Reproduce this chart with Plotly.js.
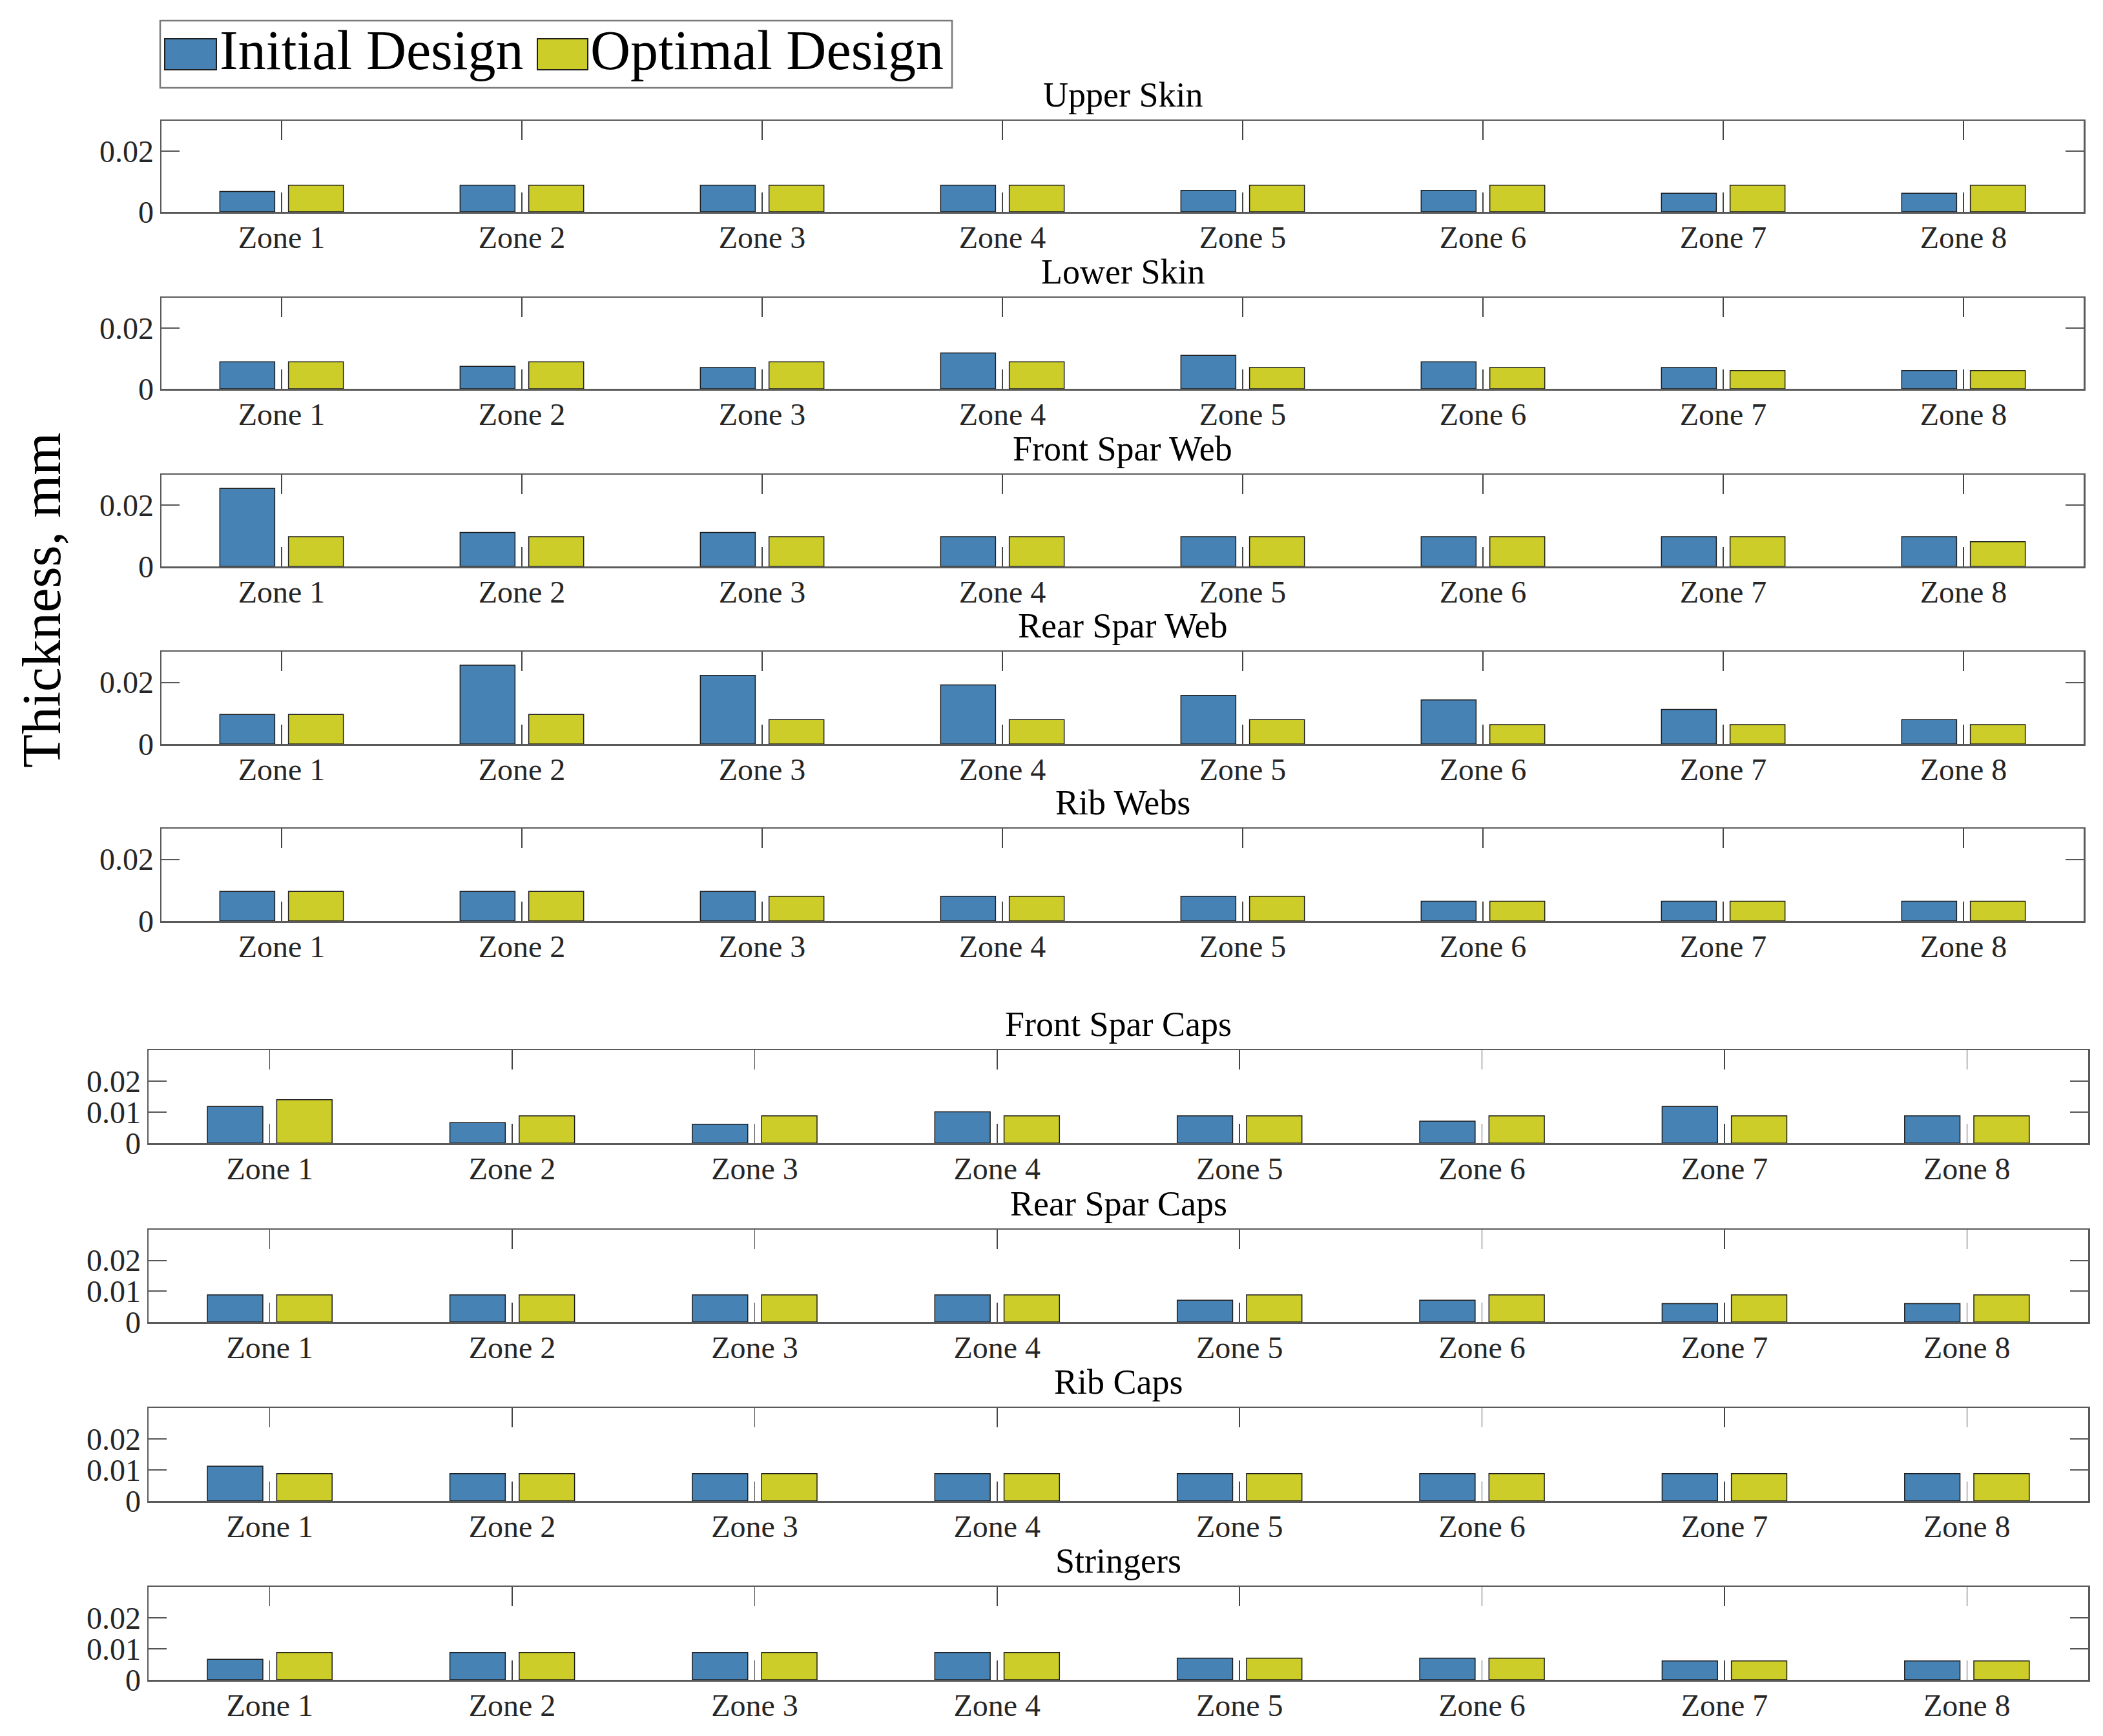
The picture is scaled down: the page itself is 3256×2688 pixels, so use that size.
<!DOCTYPE html>
<html>
<head>
<meta charset="utf-8">
<script src="https://cdn.plot.ly/plotly-3.0.1.min.js"></script>
<style>html,body{margin:0;padding:0;background:#fff;}#chart{width:3256px;height:2688px;}</style>
</head>
<body>
<div id="chart"></div>
<script>
// ---------------- DATA ----------------
const zones = ['Zone 1','Zone 2','Zone 3','Zone 4','Zone 5','Zone 6','Zone 7','Zone 8'];
const seriesNames = ['Initial Design','Optimal Design'];
const panelTitles = ['Upper Skin','Lower Skin','Front Spar Web','Rear Spar Web','Rib Webs',
                     'Front Spar Caps','Rear Spar Caps','Rib Caps','Stringers'];
const yAxisTitle = 'Thickness, mm';

const upperSkinInitial     = [0.0067,0.0088,0.0088,0.0088,0.0071,0.0071,0.0061,0.0061];
const upperSkinOptimal     = [0.0088,0.0088,0.0088,0.0088,0.0088,0.0088,0.0088,0.0088];
const lowerSkinInitial     = [0.0089,0.0074,0.0070,0.0118,0.0110,0.0089,0.0070,0.0060];
const lowerSkinOptimal     = [0.0089,0.0089,0.0089,0.0089,0.0070,0.0070,0.0060,0.0060];
const frontSparWebInitial  = [0.0255,0.0111,0.0111,0.0097,0.0097,0.0097,0.0097,0.0097];
const frontSparWebOptimal  = [0.0097,0.0097,0.0097,0.0097,0.0097,0.0097,0.0097,0.0081];
const rearSparWebInitial   = [0.0096,0.0256,0.0223,0.0192,0.0158,0.0143,0.0112,0.0079];
const rearSparWebOptimal   = [0.0096,0.0096,0.0079,0.0079,0.0079,0.0063,0.0063,0.0063];
const ribWebsInitial       = [0.0096,0.0096,0.0096,0.0080,0.0080,0.0064,0.0064,0.0064];
const ribWebsOptimal       = [0.0096,0.0096,0.0080,0.0080,0.0080,0.0064,0.0064,0.0064];
const frontSparCapsInitial = [0.0118,0.0066,0.0061,0.0101,0.0088,0.0071,0.0118,0.0088];
const frontSparCapsOptimal = [0.0140,0.0088,0.0088,0.0088,0.0088,0.0088,0.0088,0.0088];
const rearSparCapsInitial  = [0.0088,0.0088,0.0088,0.0088,0.0071,0.0071,0.0060,0.0060];
const rearSparCapsOptimal  = [0.0088,0.0088,0.0088,0.0088,0.0088,0.0088,0.0088,0.0088];
const ribCapsInitial       = [0.0112,0.0088,0.0088,0.0088,0.0088,0.0088,0.0088,0.0088];
const ribCapsOptimal       = [0.0088,0.0088,0.0088,0.0088,0.0088,0.0088,0.0088,0.0088];
const stringersInitial     = [0.0066,0.0088,0.0088,0.0088,0.0070,0.0070,0.0061,0.0061];
const stringersOptimal     = [0.0088,0.0088,0.0088,0.0088,0.0070,0.0070,0.0061,0.0061];

const upperTickVals = [0, 0.02];
const upperTickText = ['0', '0.02'];
const lowerTickVals = [0, 0.01, 0.02];
const lowerTickText = ['0', '0.01', '0.02'];

// ---------------- STYLE / GEOMETRY ----------------
const W = 3256, H = 2688;
const FONT = 'Liberation Serif, Times New Roman, serif';
const colors = ['rgb(70,130,180)', 'rgb(205,205,42)'];
const edge = {color: '#1e1e1e', width: 1.5};
const axisColor = '#5a5a5a';
const px = v => v / W;
const py = v => 1 - v / H;

const initialSets = [upperSkinInitial, lowerSkinInitial, frontSparWebInitial, rearSparWebInitial, ribWebsInitial,
                     frontSparCapsInitial, rearSparCapsInitial, ribCapsInitial, stringersInitial];
const optimalSets = [upperSkinOptimal, lowerSkinOptimal, frontSparWebOptimal, rearSparWebOptimal, ribWebsOptimal,
                     frontSparCapsOptimal, rearSparCapsOptimal, ribCapsOptimal, stringersOptimal];

const panelTop    = [187, 461, 735, 1009, 1283, 1626, 1904, 2180, 2457];
const panelBottom = [328, 602, 877, 1152, 1426, 1770, 2047, 2324, 2601];
const upperX = [250, 3226];
const lowerX = [230, 3233];

const data = [];
const layout = {
  width: W, height: H,
  margin: {l: 0, r: 0, t: 0, b: 0, pad: 0},
  paper_bgcolor: '#ffffff', plot_bgcolor: '#ffffff',
  barmode: 'group', bargap: 0.4286, bargroupgap: 0.2,
  showlegend: false,
  font: {family: FONT, color: '#000'},
  annotations: [], shapes: []
};

for (let i = 0; i < 9; i++) {
  const n = i === 0 ? '' : String(i + 1);
  const upper = i < 5;
  const xr = upper ? upperX : lowerX;
  [initialSets[i], optimalSets[i]].forEach((vals, k) => {
    data.push({
      type: 'bar', x: zones, y: vals, name: seriesNames[k],
      xaxis: 'x' + n, yaxis: 'y' + n,
      marker: {color: colors[k], line: edge},
      showlegend: false
    });
  });
  layout['xaxis' + n] = {
    domain: [px(xr[0]), px(xr[1])], anchor: 'y' + n,
    type: 'category', range: [-0.5, 7.5],
    showline: true, linecolor: axisColor, linewidth: 2.5, mirror: 'ticks',
    ticks: 'inside', ticklen: 30, tickwidth: 1.5, tickcolor: '#444',
    ticklabelstandoff: -4,
    tickfont: {family: FONT, size: 48, color: '#262626'},
    showgrid: false, zeroline: false, fixedrange: true
  };
  layout['yaxis' + n] = {
    domain: [py(panelBottom[i]), py(panelTop[i])], anchor: 'x' + n,
    range: [0, 0.03], tickmode: 'array',
    tickvals: upper ? upperTickVals : lowerTickVals,
    ticktext: upper ? upperTickText : lowerTickText,
    showline: true, linecolor: axisColor, linewidth: 2.5, mirror: 'ticks',
    ticks: 'inside', ticklen: 28, tickwidth: 2, tickcolor: '#555',
    tickfont: {family: FONT, size: 48, color: '#262626'},
    showgrid: false, zeroline: false, fixedrange: true
  };
  layout.annotations.push({
    text: panelTitles[i], xref: 'paper', yref: 'paper',
    x: px((xr[0] + xr[1]) / 2), y: py(panelTop[i] - 40),
    xanchor: 'center', yanchor: 'middle', showarrow: false,
    font: {family: FONT, size: 54, color: '#000'}
  });
}

// Y axis title
layout.annotations.push({
  text: yAxisTitle, xref: 'paper', yref: 'paper',
  x: px(64), y: py(930), textangle: -90,
  xanchor: 'center', yanchor: 'middle', showarrow: false,
  font: {family: FONT, size: 85, color: '#000'}
});

// Legend (box, swatches, labels)
layout.shapes.push({type: 'rect', xref: 'paper', yref: 'paper',
  x0: px(248), x1: px(1474), y0: py(136), y1: py(32),
  line: {color: '#7a7a7a', width: 2.5}, fillcolor: '#ffffff', layer: 'above'});
const swX = [[255, 335], [832, 910]];
const txtX = [338, 912];
for (let k = 0; k < 2; k++) {
  layout.shapes.push({type: 'rect', xref: 'paper', yref: 'paper',
    x0: px(swX[k][0]), x1: px(swX[k][1]), y0: py(108), y1: py(60),
    line: {color: '#1e1e1e', width: 2}, fillcolor: colors[k], layer: 'above'});
  layout.annotations.push({
    text: seriesNames[k], xref: 'paper', yref: 'paper',
    x: px(txtX[k]), y: py(78), xanchor: 'left', yanchor: 'middle', showarrow: false,
    font: {family: FONT, size: 86, color: '#000'}
  });
}

Plotly.newPlot('chart', data, layout, {staticPlot: true, displayModeBar: false});
</script>
</body>
</html>
